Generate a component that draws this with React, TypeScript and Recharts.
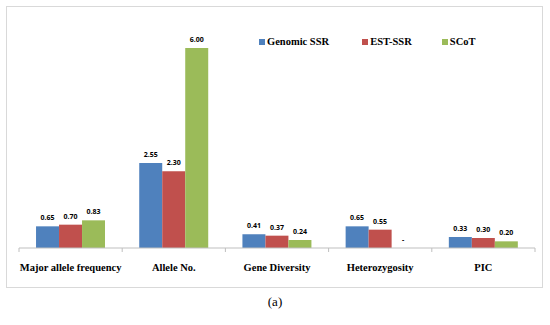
import React from 'react';
import { BarChart, Bar, XAxis, YAxis } from 'recharts';

const categories = ['Major allele frequency', 'Allele No.', 'Gene Diversity', 'Heterozygosity', 'PIC'];
const genomicSSR = [0.65, 2.55, 0.41, 0.65, 0.33];
const estSSR = [0.7, 2.3, 0.37, 0.55, 0.3];
const scot = [0.83, 6.0, 0.24, 0, 0.2];

const series = [
  { key: 'genomic', label: 'Genomic SSR', color: '#4F81BD', values: genomicSSR },
  { key: 'est', label: 'EST-SSR', color: '#C0504D', values: estSSR },
  { key: 'scot', label: 'SCoT', color: '#9BBB59', values: scot },
];

const data = categories.map((name, i) => {
  const row: Record<string, string | number> = { name };
  series.forEach((s) => (row[s.key] = s.values[i]));
  return row;
});

const W = 550;
const H = 325;
const margin = { top: 48, right: 15, left: 19, bottom: 47 };
const bandWidth = (W - margin.left - margin.right) / categories.length;
const serif = '"Liberation Serif", serif';
const labelFont = '"Open Sans", sans-serif';

function CategoryTick(props: any) {
  const { x, y, payload, index } = props;
  return (
    <g>
      <line x1={x - bandWidth / 2} x2={x - bandWidth / 2} y1={y - 8} y2={y - 4} stroke="#BFBFBF" />
      {index === categories.length - 1 && (
        <line x1={x + bandWidth / 2} x2={x + bandWidth / 2} y1={y - 8} y2={y - 4} stroke="#BFBFBF" />
      )}
      <text x={x} y={y + 15} textAnchor="middle" fontFamily={serif} fontWeight="bold" fontSize={10.5} fill="#000">
        {payload.value}
      </text>
    </g>
  );
}

// zero-height bars get no label from recharts, so the bar before it draws the "-"
function ValueLabel(props: any) {
  const { x, y, width, height, value, index, seriesIdx } = props;
  const next = series[seriesIdx + 1];
  const nextIsZero = next && next.values[index] === 0;
  return (
    <g fontFamily={labelFont} fontWeight="bold" fontSize={7} fill="#000">
      <text x={x + width / 2} y={y - 6} textAnchor="middle">
        {Number(value).toFixed(2)}
      </text>
      {nextIsZero && (
        <text x={x + width * 1.5} y={y + height - 6} textAnchor="middle">
          -
        </text>
      )}
    </g>
  );
}

function LegendBox() {
  return (
    <div style={{ display: 'flex', fontFamily: serif, fontWeight: 'bold', fontSize: 10.5, color: '#000' }}>
      {series.map((s) => (
        <div key={s.key} style={{ display: 'flex', alignItems: 'center', marginRight: s.key === 'genomic' ? 33 : 30 }}>
          <span style={{ width: 6, height: 6, background: s.color, marginRight: 2, display: 'inline-block' }} />
          {s.label}
        </div>
      ))}
    </div>
  );
}

export default function App() {
  return (
    <div style={{ position: 'fixed', left: 0, top: 0, width: W, height: H, background: '#fff' }}>
      <div
        style={{
          position: 'absolute',
          left: 6,
          top: 6,
          width: 537,
          height: 282,
          border: '1px solid #D9D9D9',
          boxSizing: 'border-box',
        }}
      />
      <div style={{ position: 'absolute', left: 0, top: 0 }}>
        <BarChart width={W} height={H} data={data} margin={margin} barCategoryGap="16.5%" barGap={0}>
          <XAxis
            dataKey="name"
            axisLine={{ stroke: '#BFBFBF' }}
            tickLine={false}
            tick={<CategoryTick />}
            interval={0}
          />
          <YAxis hide domain={[0, 6]} />
          {series.map((s, si) => (
            <Bar
              key={s.key}
              dataKey={s.key}
              name={s.label}
              fill={s.color}
              isAnimationActive={false}
              label={<ValueLabel seriesIdx={si} />}
            />
          ))}
        </BarChart>
      </div>
      <div style={{ position: 'absolute', left: 259, top: 36 }}>
        <LegendBox />
      </div>
      <div
        style={{
          position: 'absolute',
          left: 0,
          width: W,
          top: 294,
          textAlign: 'center',
          fontFamily: serif,
          fontSize: 13,
          color: '#000',
        }}
      >
        (a)
      </div>
    </div>
  );
}
